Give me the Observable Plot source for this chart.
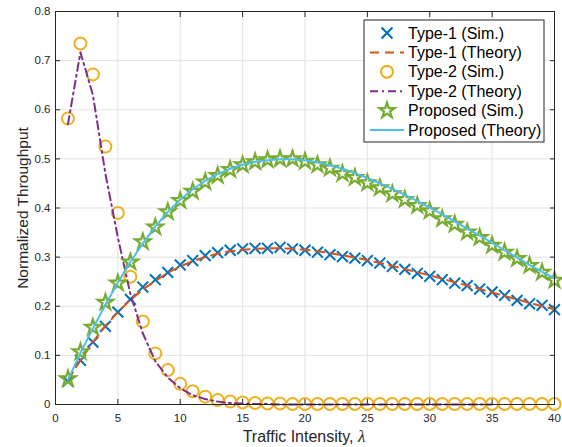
<!DOCTYPE html>
<html>
<head>
<meta charset="utf-8">
<script src="https://cdn.jsdelivr.net/npm/d3@7"></script>
<script src="https://cdn.jsdelivr.net/npm/@observablehq/plot@0.6"></script>
<style>
  html, body { margin: 0; padding: 0; background: #fff; }
  #chart svg { display: block; }
</style>
</head>
<body>
<div id="chart"></div>
<script>
// ---- data ----
const lambdas = [1,2,3,4,5,6,7,8,9,10,11,12,13,14,15,16,17,18,19,20,21,22,23,24,25,26,27,28,29,30,31,32,33,34,35,36,37,38,39,40];

const type1Sim = [0.047,0.090,0.127,0.159,0.188,0.214,0.239,0.254,0.269,0.284,0.293,0.303,0.309,0.314,0.317,0.318,0.318,0.320,0.317,0.314,0.310,0.305,0.301,0.298,0.293,0.288,0.281,0.275,0.267,0.261,0.254,0.247,0.242,0.235,0.229,0.222,0.212,0.205,0.202,0.193];
const type1Theory = [0.050,0.090,0.127,0.160,0.188,0.213,0.234,0.252,0.268,0.281,0.292,0.300,0.307,0.312,0.315,0.317,0.318,0.318,0.317,0.315,0.312,0.308,0.304,0.299,0.294,0.288,0.282,0.276,0.269,0.263,0.256,0.249,0.242,0.235,0.228,0.221,0.214,0.207,0.200,0.194];

const type2Sim = [0.582,0.735,0.672,0.525,0.390,0.260,0.169,0.104,0.070,0.042,0.027,0.016,0.009,0.006,0.004,0.003,0.002,0.002,0.001,0.001,0.001,0.001,0.001,0.001,0.001,0.001,0.001,0.001,0.001,0.001,0.001,0.001,0.001,0.001,0.001,0.001,0.001,0.001,0.001,0.001];
const type2TheoryLambdas = [1,2,3,4,5,6,7,8,9,10,11,12,13,14,15,16,17,18,19,20,21,22,23,24,25,26,27,28,29,30,31,32,33,34,35];
const type2Theory = [0.571,0.717,0.630,0.470,0.340,0.225,0.145,0.088,0.055,0.033,0.019,0.011,0.006,0.003,0.002,0.001,0.001,0.000,0.000,0.000,0.000,0.000,0.000,0.000,0.000,0.000,0.000,0.000,0.000,0.000,0.000,0.000,0.000,0.000,0.000];

const proposedSim = [0.052,0.107,0.157,0.208,0.247,0.290,0.331,0.361,0.392,0.415,0.434,0.453,0.466,0.478,0.488,0.494,0.498,0.500,0.500,0.495,0.488,0.481,0.470,0.462,0.451,0.441,0.429,0.417,0.405,0.394,0.378,0.367,0.351,0.340,0.324,0.310,0.297,0.283,0.269,0.253];
const proposedTheory = [0.050,0.105,0.155,0.203,0.248,0.290,0.328,0.362,0.392,0.417,0.438,0.455,0.469,0.480,0.488,0.494,0.497,0.499,0.499,0.497,0.493,0.487,0.480,0.471,0.461,0.450,0.439,0.427,0.414,0.401,0.387,0.373,0.358,0.344,0.329,0.314,0.299,0.284,0.270,0.257];

const xTicks = [0,5,10,15,20,25,30,35,40];
const yTicks = [0,0.1,0.2,0.3,0.4,0.5,0.6,0.7,0.8];
const yTickLabels = ["0","0.1","0.2","0.3","0.4","0.5","0.6","0.7","0.8"];
const xLabel = "Traffic Intensity, ";
const xLabelSymbol = "λ";
const yLabel = "Normalized Throughput";
const seriesNames = ["Type-1 (Sim.)","Type-1 (Theory)","Type-2 (Sim.)","Type-2 (Theory)","Proposed (Sim.)","Proposed (Theory)"];

// ---- styles ----
const C = {blue:"#0072BD", orange:"#D95319", yellow:"#EDB120", purple:"#7E2F8E", green:"#77AC30", cyan:"#4DBEEE", axis:"#262626", grid:"#e3e3e3"};
const DASH = "9,6";
const DASHDOT = "8,4,2,4";
const FONT = "'Liberation Sans', Arial, sans-serif";

const rows = (xs, ys) => xs.map((x, i) => ({x, y: ys[i]}));

const W = 562, H = 447;
const svg = Plot.plot({
  width: W, height: H,
  marginLeft: 55, marginRight: 8, marginTop: 11, marginBottom: 43,
  style: {fontFamily: FONT, fontSize: "11px", color: C.axis, background: "#fff", overflow: "visible"},
  x: {domain: [0, 40]},
  y: {domain: [0, 0.8]},
  marks: [
    Plot.gridX(xTicks, {stroke: C.grid, strokeOpacity: 1, strokeWidth: 1}),
    Plot.gridY(yTicks, {stroke: C.grid, strokeOpacity: 1, strokeWidth: 1}),
    Plot.axisX(xTicks, {anchor: "bottom", tickSize: 0, tickPadding: 9, fontSize: 11.5, fill: C.axis, label: null, tickFormat: d => String(d)}),
    Plot.axisY(yTicks, {anchor: "left", tickSize: 0, tickPadding: 5, fontSize: 11.5, fill: C.axis, label: null, tickFormat: d => yTickLabels[yTicks.indexOf(d)]}),
    Plot.axisX(xTicks, {anchor: "bottom", tickSize: -5, tickFormat: () => "", label: null, stroke: C.axis}),
    Plot.axisX(xTicks, {anchor: "top", tickSize: -5, tickFormat: () => "", label: null, stroke: C.axis}),
    Plot.axisY(yTicks, {anchor: "left", tickSize: -5, tickFormat: () => "", label: null, stroke: C.axis}),
    Plot.axisY(yTicks, {anchor: "right", tickSize: -5, tickFormat: () => "", label: null, stroke: C.axis}),
    // Type-1
    Plot.dot(rows(lambdas, type1Sim), {x: "x", y: "y", symbol: "times", r: 5, stroke: C.blue, strokeWidth: 2}),
    Plot.line(rows(lambdas, type1Theory), {x: "x", y: "y", stroke: C.orange, strokeWidth: 2, strokeDasharray: DASH}),
    // Type-2
    Plot.dot(rows(lambdas, type2Sim), {x: "x", y: "y", symbol: "circle", r: 6, stroke: C.yellow, strokeWidth: 2}),
    Plot.line(rows(type2TheoryLambdas, type2Theory), {x: "x", y: "y", stroke: C.purple, strokeWidth: 2, strokeDasharray: DASHDOT}),
    // Proposed
    Plot.dot(rows(lambdas, proposedSim), {x: "x", y: "y", symbol: "star", r: 4.8, stroke: C.green, strokeWidth: 2.2}),
    Plot.line(rows(lambdas, proposedTheory), {x: "x", y: "y", stroke: C.cyan, strokeWidth: 2}),
    Plot.frame({stroke: C.axis, strokeWidth: 1})
  ]
});
document.getElementById("chart").appendChild(svg);

// ---- axis labels ----
const s = d3.select(svg);
const xl = s.append("text")
  .attr("x", 304).attr("y", 442)
  .attr("text-anchor", "middle")
  .attr("fill", C.axis)
  .style("font-family", FONT)
  .style("font-size", "16px");
xl.append("tspan").text(xLabel);
xl.append("tspan").text(xLabelSymbol).style("font-family", "'Liberation Serif', 'DejaVu Serif', serif").style("font-style", "italic").style("font-size", "17px");

s.append("text")
  .attr("transform", "translate(28,208) rotate(-90)")
  .attr("text-anchor", "middle")
  .attr("fill", C.axis)
  .style("font-family", FONT)
  .style("font-size", "15.5px")
  .text(yLabel);

// ---- legend ----
const lg = s.append("g");
const lx = 364, ly = 20, lw = 180, lh = 122;
lg.append("rect").attr("x", lx).attr("y", ly).attr("width", lw).attr("height", lh)
  .attr("fill", "#fff").attr("stroke", C.axis).attr("stroke-width", 1);
const legendItems = [
  {kind: "marker", sym: d3.symbolTimes, size: 78, color: C.blue},
  {kind: "line", dash: DASH, color: C.orange},
  {kind: "marker", sym: d3.symbolCircle, size: 113, color: C.yellow},
  {kind: "line", dash: DASHDOT, color: C.purple},
  {kind: "marker", sym: d3.symbolStar, size: 72, color: C.green},
  {kind: "line", dash: null, color: C.cyan}
];
legendItems.forEach((it, i) => {
  const cy = 33 + i * 19.4;
  if (it.kind === "marker") {
    lg.append("path").attr("d", d3.symbol(it.sym, it.size)())
      .attr("transform", `translate(387,${cy})`)
      .attr("fill", "none").attr("stroke", it.color).attr("stroke-width", 2.2);
  } else {
    lg.append("line").attr("x1", 370).attr("x2", 404).attr("y1", cy).attr("y2", cy)
      .attr("stroke", it.color).attr("stroke-width", 2)
      .attr("stroke-dasharray", it.dash);
  }
  lg.append("text").attr("x", 408).attr("y", cy).attr("dy", "0.35em")
    .attr("text-anchor", "start")
    .attr("fill", "#000")
    .style("font-family", FONT)
    .style("font-size", "16px")
    .text(seriesNames[i]);
});
</script>
</body>
</html>
